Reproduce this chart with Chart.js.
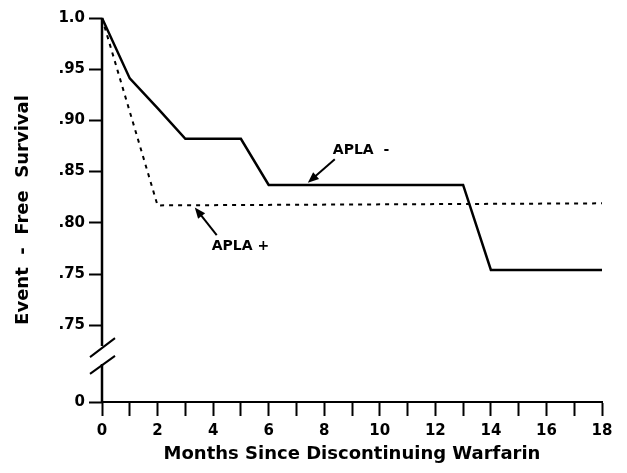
<!DOCTYPE html>
<html>
<head>
	<script src="https://cdn.jsdelivr.net/npm/chart.js@4.4.1/dist/chart.umd.min.js"></script>
	<style>
		body { margin: 0; background: #fff; }
		#wrapper { width: 627px; height: 473px; }
	</style>
</head>
<body>
<div id="wrapper"><canvas id="myChart"></canvas></div>
<script>
// APLA negative (solid) and APLA positive (dotted) curves
var negMonths   = [0, 1, 2, 3, 5, 6, 13, 14, 18];
var negSurvival = [1.0, 0.941, 0.912, 0.882, 0.882, 0.837, 0.837, 0.754, 0.754];
var posMonths   = [0, 2, 18];
var posSurvival = [1.0, 0.817, 0.819];

// y axis is broken: the last tick stands for 0
var yTickValues = [1.0, 0.95, 0.90, 0.85, 0.80, 0.75, 0.70, 0.625];
var yTickLabels = ['1.0', '.95', '.90', '.85', '.80', '.75', '.75', '0'];
var yBreak = [0.6622, 0.6796];

var notes = [
	{ text: 'APLA  -', at: [8.31, 0.871], from: [8.38, 0.862], to: [7.41, 0.839] },
	{ text: 'APLA +', at: [3.95, 0.777], from: [4.13, 0.788], to: [3.34, 0.815] }
];

function toPoints(xs, ys) {
	return xs.map(function (x, i) { return { x: x, y: ys[i] }; });
}

var FONT = 'DejaVu Sans';

var extras = {
	id: 'extras',
	afterDraw: function (chart) {
		var ctx = chart.ctx, xs = chart.scales.x, ys = chart.scales.y;
		var ax = chart.chartArea.left;
		var bHi = ys.getPixelForValue(yBreak[1]);
		var bLo = ys.getPixelForValue(yBreak[0]);
		ctx.save();
		ctx.strokeStyle = '#000';
		ctx.fillStyle = '#000';
		// broken y axis
		ctx.lineWidth = 2.5;
		ctx.beginPath();
		ctx.moveTo(ax, chart.chartArea.top);
		ctx.lineTo(ax, bHi);
		ctx.moveTo(ax, bLo);
		ctx.lineTo(ax, chart.chartArea.bottom);
		ctx.stroke();
		ctx.lineWidth = 2;
		ctx.beginPath();
		ctx.moveTo(ax - 12, bHi + 11); ctx.lineTo(ax + 13, bHi - 8);
		ctx.moveTo(ax - 12, bLo + 10); ctx.lineTo(ax + 13, bLo - 8);
		ctx.stroke();

		// labels with arrows
		ctx.font = 'bold 14px "' + FONT + '"';
		ctx.textBaseline = 'middle';
		ctx.textAlign = 'left';
		notes.forEach(function (n) {
			ctx.fillText(n.text, xs.getPixelForValue(n.at[0]), ys.getPixelForValue(n.at[1]));
			var x1 = xs.getPixelForValue(n.from[0]), y1 = ys.getPixelForValue(n.from[1]);
			var x2 = xs.getPixelForValue(n.to[0]), y2 = ys.getPixelForValue(n.to[1]);
			var a = Math.atan2(y2 - y1, x2 - x1);
			ctx.lineWidth = 2;
			ctx.beginPath();
			ctx.moveTo(x1, y1);
			ctx.lineTo(x2 - 8 * Math.cos(a), y2 - 8 * Math.sin(a));
			ctx.stroke();
			ctx.beginPath();
			ctx.moveTo(x2, y2);
			ctx.lineTo(x2 - 11 * Math.cos(a) + 4.5 * Math.sin(a), y2 - 11 * Math.sin(a) - 4.5 * Math.cos(a));
			ctx.lineTo(x2 - 11 * Math.cos(a) - 4.5 * Math.sin(a), y2 - 11 * Math.sin(a) + 4.5 * Math.cos(a));
			ctx.closePath();
			ctx.fill();
		});
		ctx.restore();
	}
};

var myChart = new Chart(document.getElementById('myChart'), {
	type: 'line',
	data: {
		datasets: [
			{
				label: 'APLA -',
				data: toPoints(negMonths, negSurvival),
				borderColor: '#000',
				borderWidth: 2.5,
				pointRadius: 0,
				tension: 0,
				clip: false
			},
			{
				label: 'APLA +',
				data: toPoints(posMonths, posSurvival),
				borderColor: '#000',
				borderWidth: 2,
				borderDash: [4, 5],
				pointRadius: 0,
				tension: 0,
				clip: false
			}
		]
	},
	options: {
		responsive: true,
		maintainAspectRatio: false,
		animation: false,
		layout: { padding: { top: 18, right: 25, left: 0, bottom: 0 } },
		plugins: { legend: { display: false }, tooltip: { enabled: false } },
		scales: {
			x: {
				type: 'linear',
				min: 0,
				max: 18,
				afterFit: function (s) { s.height = 71; },
				border: { display: true, color: '#000', width: 2 },
				grid: { drawOnChartArea: false, drawTicks: true, tickLength: 14, tickWidth: 2, tickColor: '#000', color: '#000' },
				ticks: {
					stepSize: 1,
					autoSkip: false,
					maxRotation: 0,
					padding: 6,
					color: '#000',
					font: { family: FONT, size: 15, weight: 'bold' },
					callback: function (v) { return v % 2 === 0 ? String(v) : ''; }
				},
				title: {
					display: true,
					text: 'Months Since Discontinuing Warfarin',
					color: '#000',
					font: { family: FONT, size: 18, weight: 'bold' },
					padding: { top: 0, bottom: 8 }
				}
			},
			y: {
				type: 'linear',
				min: 0.625,
				max: 1.0,
				afterFit: function (s) { s.width = 102; },
				afterBuildTicks: function (s) {
					s.ticks = yTickValues.map(function (v) { return { value: v }; });
				},
				border: { display: false },
				grid: { drawOnChartArea: false, drawTicks: true, tickLength: 13, tickWidth: 2, tickColor: '#000', color: '#000' },
				ticks: {
					autoSkip: false,
					padding: 4,
					color: '#000',
					font: { family: FONT, size: 15, weight: 'bold' },
					callback: function (v, i) { return yTickLabels[i]; }
				},
				title: {
					display: true,
					text: 'Event  -  Free  Survival',
					color: '#000',
					font: { family: FONT, size: 18, weight: 'bold' },
					padding: { top: 13, bottom: 0 }
				}
			}
		}
	},
	plugins: [extras]
});
</script>
</body>
</html>
